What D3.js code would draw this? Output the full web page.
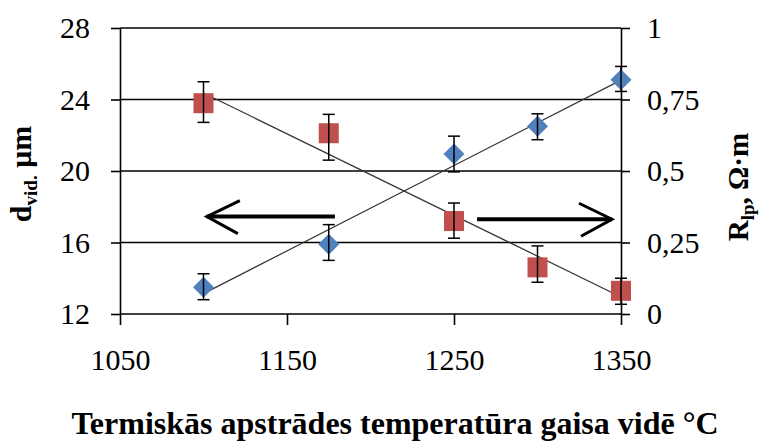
<!DOCTYPE html>
<html>
<head>
<meta charset="utf-8">
<script src="https://cdn.jsdelivr.net/npm/d3@7"></script>
<style>
  body { margin: 0; background: #fff; }
</style>
</head>
<body>
<div id="chart"></div>
<script>
// data
var temps = [1100, 1175, 1250, 1300, 1350];

// grain size d_vid, um (left axis, blue diamonds)
var grainSize = [13.5, 15.9, 20.95, 22.5, 25.1];
var grainHi   = [14.25, 17.0, 21.95, 23.2, 25.85];
var grainLo   = [12.8, 15.0, 19.95, 21.75, 24.45];

// resistivity R_lp, Ohm*m (right axis, red squares)
var resist   = [0.737, 0.632, 0.325, 0.163, 0.081];
var resistHi = [0.812, 0.698, 0.388, 0.238, 0.125];
var resistLo = [0.670, 0.538, 0.265, 0.111, 0.034];

var xTicks = [1050, 1150, 1250, 1350];
var yLeftTicks = [12, 16, 20, 24, 28];
var yRightTicks = [0, 0.25, 0.5, 0.75, 1];
var yRightLabels = ["0", "0,25", "0,5", "0,75", "1"];

// arrow annotations, in left-axis units [x0, x1, y]
var arrowLeft = [1178.7, 1102, 17.45];
var arrowRight = [1263.8, 1344.6, 17.3];

var FONT = "'Liberation Serif', 'Times New Roman', serif";

var width = 761, height = 441;
var margin = { left: 120, right: 140, top: 28, bottom: 127 };
var innerW = width - margin.left - margin.right,
    innerH = height - margin.top - margin.bottom;

function translate(dx, dy){ return "translate(" + dx + "," + dy + ")"; }

var xScale = d3.scaleLinear().domain([1050, 1350]).range([0, innerW]);
var yScale = d3.scaleLinear().domain([12, 28]).range([innerH, 0]);
var yRScale = d3.scaleLinear().domain([0, 1]).range([innerH, 0]);

var svg = d3.select("#chart").append("svg")
    .attr("width", width).attr("height", height);
var g = svg.append("g").attr("transform", translate(margin.left, margin.top));

// gridlines
g.selectAll(".grid").data(yLeftTicks).enter().append("line")
    .attr("class", "grid")
    .attr("x1", 0).attr("x2", innerW)
    .attr("y1", function(d){ return yScale(d); })
    .attr("y2", function(d){ return yScale(d); })
    .attr("stroke", "#000").attr("stroke-width", 1.6);

// axes
var leftAxis = d3.axisLeft(yScale).tickValues(yLeftTicks).tickSize(9).tickSizeOuter(0).tickPadding(21);
var rightAxis = d3.axisRight(yRScale).tickValues(yRightTicks).tickSize(9).tickSizeOuter(0).tickPadding(17)
    .tickFormat(function(d, i){ return yRightLabels[i]; });
var bottomAxis = d3.axisBottom(xScale).tickValues(xTicks).tickSize(11).tickSizeOuter(0).tickPadding(24)
    .tickFormat(d3.format("d"));

function styleAxis(sel){
    sel.attr("font-family", null);
    sel.select(".domain").attr("stroke", "#000").attr("stroke-width", 1.6);
    sel.selectAll(".tick line").attr("stroke", "#000").attr("stroke-width", 1.6);
    sel.selectAll(".tick text").style("font-size", "30px").attr("fill", "#000")
        .style("font-family", FONT);
}

g.append("g").attr("class", "y-axis").call(leftAxis).call(styleAxis);
g.append("g").attr("class", "y-axis-r").attr("transform", translate(innerW, 0)).call(rightAxis).call(styleAxis);
g.append("g").attr("class", "x-axis").attr("transform", translate(0, innerH)).call(bottomAxis).call(styleAxis);
g.select(".x-axis .domain").remove();

// linear trendlines (least squares)
function fit(xs, ys){
    var mx = d3.mean(xs), my = d3.mean(ys), sxy = 0, sxx = 0;
    xs.forEach(function(x, i){ sxy += (x - mx) * (ys[i] - my); sxx += (x - mx) * (x - mx); });
    var b = sxy / sxx;
    return function(x){ return my + b * (x - mx); };
}
var xEnds = d3.extent(temps);
var fG = fit(temps, grainSize), fR = fit(temps, resist);
g.append("line")
    .attr("x1", xScale(xEnds[0])).attr("x2", xScale(xEnds[1]))
    .attr("y1", yScale(fG(xEnds[0]))).attr("y2", yScale(fG(xEnds[1])))
    .attr("stroke", "#333").attr("stroke-width", 1.2);
g.append("line")
    .attr("x1", xScale(xEnds[0])).attr("x2", xScale(xEnds[1]))
    .attr("y1", yRScale(fR(xEnds[0]))).attr("y2", yRScale(fR(xEnds[1])))
    .attr("stroke", "#333").attr("stroke-width", 1.2);

// markers
var diamond = d3.symbol().type(d3.symbolSquare).size(220);
g.selectAll(".diamond").data(temps).enter().append("path")
    .attr("class", "diamond")
    .attr("d", diamond)
    .attr("transform", function(d, i){ return translate(xScale(d), yScale(grainSize[i])) + " rotate(45)"; })
    .attr("fill", "#4F81BD");

g.selectAll(".square").data(temps).enter().append("rect")
    .attr("class", "square")
    .attr("x", function(d){ return xScale(d) - 10; })
    .attr("y", function(d, i){ return yRScale(resist[i]) - 10; })
    .attr("width", 20).attr("height", 20)
    .attr("fill", "#C0504D");

// error bars
function errorBars(cls, hi, lo, scale){
    var eb = g.selectAll("." + cls).data(temps).enter().append("g").attr("class", cls);
    eb.append("line")
        .attr("x1", function(d){ return xScale(d); }).attr("x2", function(d){ return xScale(d); })
        .attr("y1", function(d, i){ return scale(hi[i]); }).attr("y2", function(d, i){ return scale(lo[i]); });
    eb.append("line")
        .attr("x1", function(d){ return xScale(d) - 6; }).attr("x2", function(d){ return xScale(d) + 6; })
        .attr("y1", function(d, i){ return scale(hi[i]); }).attr("y2", function(d, i){ return scale(hi[i]); });
    eb.append("line")
        .attr("x1", function(d){ return xScale(d) - 6; }).attr("x2", function(d){ return xScale(d) + 6; })
        .attr("y1", function(d, i){ return scale(lo[i]); }).attr("y2", function(d, i){ return scale(lo[i]); });
    eb.selectAll("line").attr("stroke", "#000").attr("stroke-width", 1.5);
}
errorBars("eb-g", grainHi, grainLo, yScale);
errorBars("eb-r", resistHi, resistLo, yRScale);

// arrows
function arrow(a){
    var x0 = xScale(a[0]), x1 = xScale(a[1]), y = yScale(a[2]);
    var dir = x1 > x0 ? -1 : 1;
    g.append("line").attr("x1", x0).attr("x2", x1).attr("y1", y).attr("y2", y)
        .attr("stroke", "#000").attr("stroke-width", 4);
    g.append("path")
        .attr("d", "M" + (x1 + dir * 33) + "," + (y - 16) + "L" + x1 + "," + y + "L" + (x1 + dir * 31) + "," + (y + 17))
        .attr("fill", "none").attr("stroke", "#000").attr("stroke-width", 3);
}
arrow(arrowLeft);
arrow(arrowRight);

// axis titles
var lt = svg.append("text")
    .attr("transform", translate(31, 174) + " rotate(-90)")
    .attr("text-anchor", "middle")
    .style("font-family", FONT).style("font-weight", "bold").style("font-size", "30px");
lt.append("tspan").text("d");
lt.append("tspan").style("font-size", "19px").attr("dy", 6).text("vid.");
lt.append("tspan").attr("dy", -6).text(" μm");

var rt = svg.append("text")
    .attr("transform", translate(748, 187) + " rotate(-90)")
    .attr("text-anchor", "middle")
    .style("font-family", FONT).style("font-weight", "bold").style("font-size", "29px");
rt.append("tspan").text("R");
rt.append("tspan").style("font-size", "19px").attr("dy", 6).text("lp");
rt.append("tspan").attr("dy", -6).text(", Ω·m");

svg.append("text")
    .attr("x", 395).attr("y", 434)
    .attr("text-anchor", "middle")
    .style("font-family", FONT).style("font-weight", "bold").style("font-size", "32px")
    .text("Termiskās apstrādes temperatūra gaisa vidē °C");
</script>
</body>
</html>
